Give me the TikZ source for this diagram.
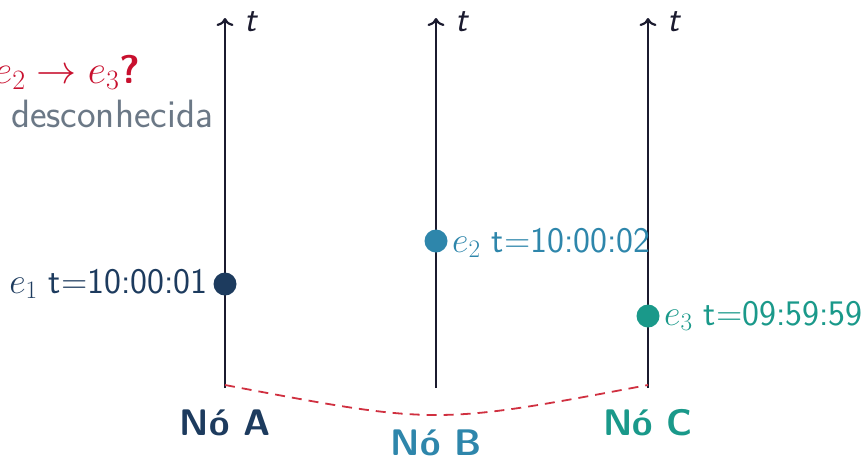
\RequirePackage{fix-cm}
\documentclass[tikz,border=0pt]{standalone}
\usepackage{fontspec}
\usetikzlibrary{arrows.meta}
\definecolor{axisc}{HTML}{1B1B2F}
\definecolor{navy}{HTML}{1D3B5E}
\definecolor{blueb}{HTML}{2E86AB}
\definecolor{tealc}{HTML}{1A998A}
\definecolor{redc}{HTML}{C8102E}
\definecolor{dashc}{HTML}{D03040}
\definecolor{grayc}{HTML}{6B7886}
\begin{document}
\begin{tikzpicture}[x=1pt,y=-1pt,
  axis/.style={draw=axisc,line width=2.2pt,-{Computer Modern Rightarrow[length=8pt,width=17pt]}},
  tlabel/.style={anchor=base west,inner sep=0pt,text=axisc,font=\fontsize{36}{40}\selectfont\sffamily\itshape},
  evdot/.style={circle,inner sep=0pt,minimum size=23pt},
  evlabel/.style={inner sep=0pt,font=\fontsize{36}{40}\selectfont\sffamily},
  nodelabel/.style={anchor=base,inner sep=0pt,font=\fontsize{37}{42}\selectfont\sffamily\bfseries}]
\useasboundingbox (0,0) rectangle (868,459);
% axes
\coordinate (Abot) at (225,388); \coordinate (Atop) at (225,18);
\coordinate (Bbot) at (436,388); \coordinate (Btop) at (436,18);
\coordinate (Cbot) at (648,388); \coordinate (Ctop) at (648,18);
\draw[axis] (Abot) -- (Atop);
\draw[axis] (Bbot) -- (Btop);
\draw[axis] (Cbot) -- (Ctop);
\node[tlabel] (tA) at (244,31) {t};
\node[tlabel] (tB) at (455,31) {t};
\node[tlabel] (tC) at (667,31) {t};
% events
\node[evdot,fill=navy] (e1) at (225,284) {};
\node[evdot,fill=blueb] (e2) at (436,241) {};
\node[evdot,fill=tealc] (e3) at (648,316) {};
\node[evlabel,text=navy,anchor=base east] (l1) at (208,293) {$e_1$\ t=10:00:01};
\node[evlabel,text=blueb,anchor=base west] (l2) at (452,252) {$e_2$\ t=10:00:02};
\node[evlabel,text=tealc,anchor=base west] (l3) at (664,325) {$e_3$\ t=09:59:59};
% node names
\node[nodelabel,text=navy] (nA) at (225,435) {Nó A};
\node[nodelabel,text=blueb] (nB) at (436,455) {Nó B};
\node[nodelabel,text=tealc] (nC) at (648,435) {Nó C};
% dashed curve
\coordinate (cA) at (225,385); \coordinate (cC) at (648,385);
\draw[dashc,line width=1.8pt,dash pattern=on 10pt off 7pt] (cA) .. controls (436,425) .. (cC);
% question
\node[anchor=base west,inner sep=0pt,text=redc,font=\fontsize{40}{44}\selectfont] (q) at (-6,83) {$e_2\rightarrow e_3$\textsf{\bfseries ?}};
\node[anchor=base,inner sep=0pt,text=grayc,font=\fontsize{39.5}{44}\selectfont\sffamily] (unk) at (112,127) {desconhecida};
\end{tikzpicture}
\end{document}
